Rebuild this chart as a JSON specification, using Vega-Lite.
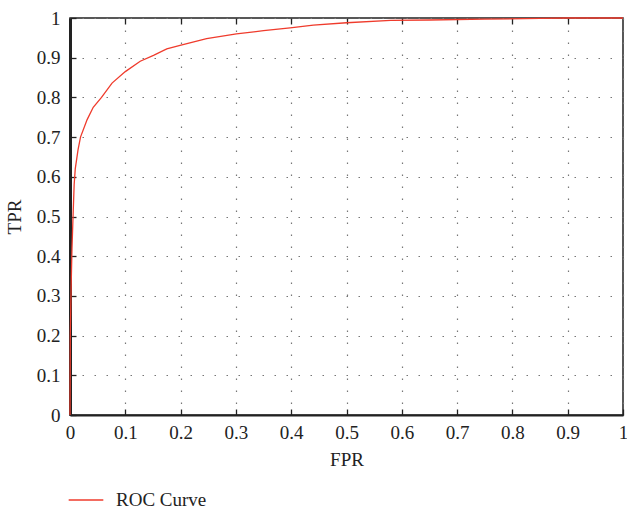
{
  "$schema": "https://vega.github.io/schema/vega-lite/v6.json",
  "width": 553,
  "height": 397,
  "autosize": {"type": "none"},
  "padding": {"left": 70, "top": 18, "right": 4, "bottom": 95},
  "background": "white",
  "config": {
    "font": "Liberation Serif",
    "view": {"stroke": "#222", "strokeWidth": 1.5},
    "axis": {
      "labelFont": "Liberation Serif",
      "titleFont": "Liberation Serif",
      "labelFontSize": 19,
      "titleFontSize": 19,
      "labelColor": "#222",
      "titleColor": "#222",
      "titleFontWeight": "normal",
      "domainColor": "#222",
      "tickColor": "#222",
      "tickWidth": 1.3,
      "gridColor": "#777",
      "gridDash": [1.5, 10.5],
      "gridWidth": 1.2
    }
  },
  "data": {
    "values": [
      {"FPR": 0, "TPR": 0},
      {"FPR": 0.0005, "TPR": 0.2},
      {"FPR": 0.002, "TPR": 0.32},
      {"FPR": 0.0036, "TPR": 0.42},
      {"FPR": 0.0055, "TPR": 0.5},
      {"FPR": 0.0075, "TPR": 0.58},
      {"FPR": 0.0095, "TPR": 0.62},
      {"FPR": 0.0145, "TPR": 0.668},
      {"FPR": 0.019, "TPR": 0.7},
      {"FPR": 0.031, "TPR": 0.744},
      {"FPR": 0.042, "TPR": 0.775},
      {"FPR": 0.057, "TPR": 0.8},
      {"FPR": 0.076, "TPR": 0.836},
      {"FPR": 0.1, "TPR": 0.865},
      {"FPR": 0.127, "TPR": 0.891},
      {"FPR": 0.151, "TPR": 0.906},
      {"FPR": 0.175, "TPR": 0.922},
      {"FPR": 0.199, "TPR": 0.931},
      {"FPR": 0.247, "TPR": 0.948},
      {"FPR": 0.301, "TPR": 0.96},
      {"FPR": 0.35, "TPR": 0.968},
      {"FPR": 0.398, "TPR": 0.975},
      {"FPR": 0.44, "TPR": 0.982},
      {"FPR": 0.5, "TPR": 0.988},
      {"FPR": 0.58, "TPR": 0.994},
      {"FPR": 0.65, "TPR": 0.995},
      {"FPR": 0.75, "TPR": 0.997},
      {"FPR": 0.85, "TPR": 0.999},
      {"FPR": 0.9, "TPR": 1.0},
      {"FPR": 1, "TPR": 1}
    ]
  },
  "layer": [
    {
      "mark": {"type": "point", "opacity": 0},
      "encoding": {
        "x": {
          "field": "FPR", "type": "quantitative",
          "scale": {"domain": [0, 1], "nice": false, "zero": false},
          "axis": {
            "orient": "top", "values": [0.1,0.2,0.3,0.4,0.5,0.6,0.7,0.8,0.9],
            "labels": false, "title": null, "tickSize": -6, "grid": false, "domain": false
          }
        },
        "y": {
          "field": "TPR", "type": "quantitative",
          "scale": {"domain": [0, 1], "nice": false, "zero": false},
          "axis": {
            "orient": "left", "values": [0,0.1,0.2,0.3,0.4,0.5,0.6,0.7,0.8,0.9,1],
            "labelExpr": "datum.value == 0 ? '0' : datum.value == 1 ? '1' : format(datum.value, '.1f')",
            "tickSize": -6, "labelPadding": 16, "titlePadding": 12, "grid": true, "title": "TPR",
            "domainWidth": 3, "labelFlush": false
          }
        }
      }
    },
    {
      "mark": {"type": "line", "strokeWidth": 1.3, "clip": false},
      "encoding": {
        "x": {
          "field": "FPR", "type": "quantitative",
          "scale": {"domain": [0, 1], "nice": false, "zero": false},
          "axis": {
            "orient": "bottom", "values": [0,0.1,0.2,0.3,0.4,0.5,0.6,0.7,0.8,0.9,1],
            "labelExpr": "datum.value == 0 ? '0' : datum.value == 1 ? '1' : format(datum.value, '.1f')",
            "tickSize": -6, "labelPadding": 14, "titlePadding": 8, "grid": true,
            "domainWidth": 2, "labelFlush": false
          }
        },
        "y": {
          "field": "TPR", "type": "quantitative",
          "scale": {"domain": [0, 1], "nice": false, "zero": false},
          "axis": {
            "orient": "left", "values": [0,0.1,0.2,0.3,0.4,0.5,0.6,0.7,0.8,0.9,1],
            "labelExpr": "datum.value == 0 ? '0' : datum.value == 1 ? '1' : format(datum.value, '.1f')",
            "tickSize": -6, "labelPadding": 16, "titlePadding": 12, "grid": true, "title": "TPR",
            "domainWidth": 3, "labelFlush": false
          }
        },
        "color": {
          "datum": "ROC Curve", "type": "nominal",
          "scale": {"range": ["#ef3b2c"]},
          "legend": {
            "title": null, "orient": "none", "legendX": -2, "legendY": 464,
            "symbolType": "stroke", "symbolSize": 1200, "symbolStrokeWidth": 1.3,
            "labelFont": "Liberation Serif", "labelFontSize": 19, "labelColor": "#222",
            "labelOffset": 12
          }
        }
      }
    }
  ],
  "resolve": {"scale": {"x": "independent"}, "axis": {"x": "independent"}}
}
